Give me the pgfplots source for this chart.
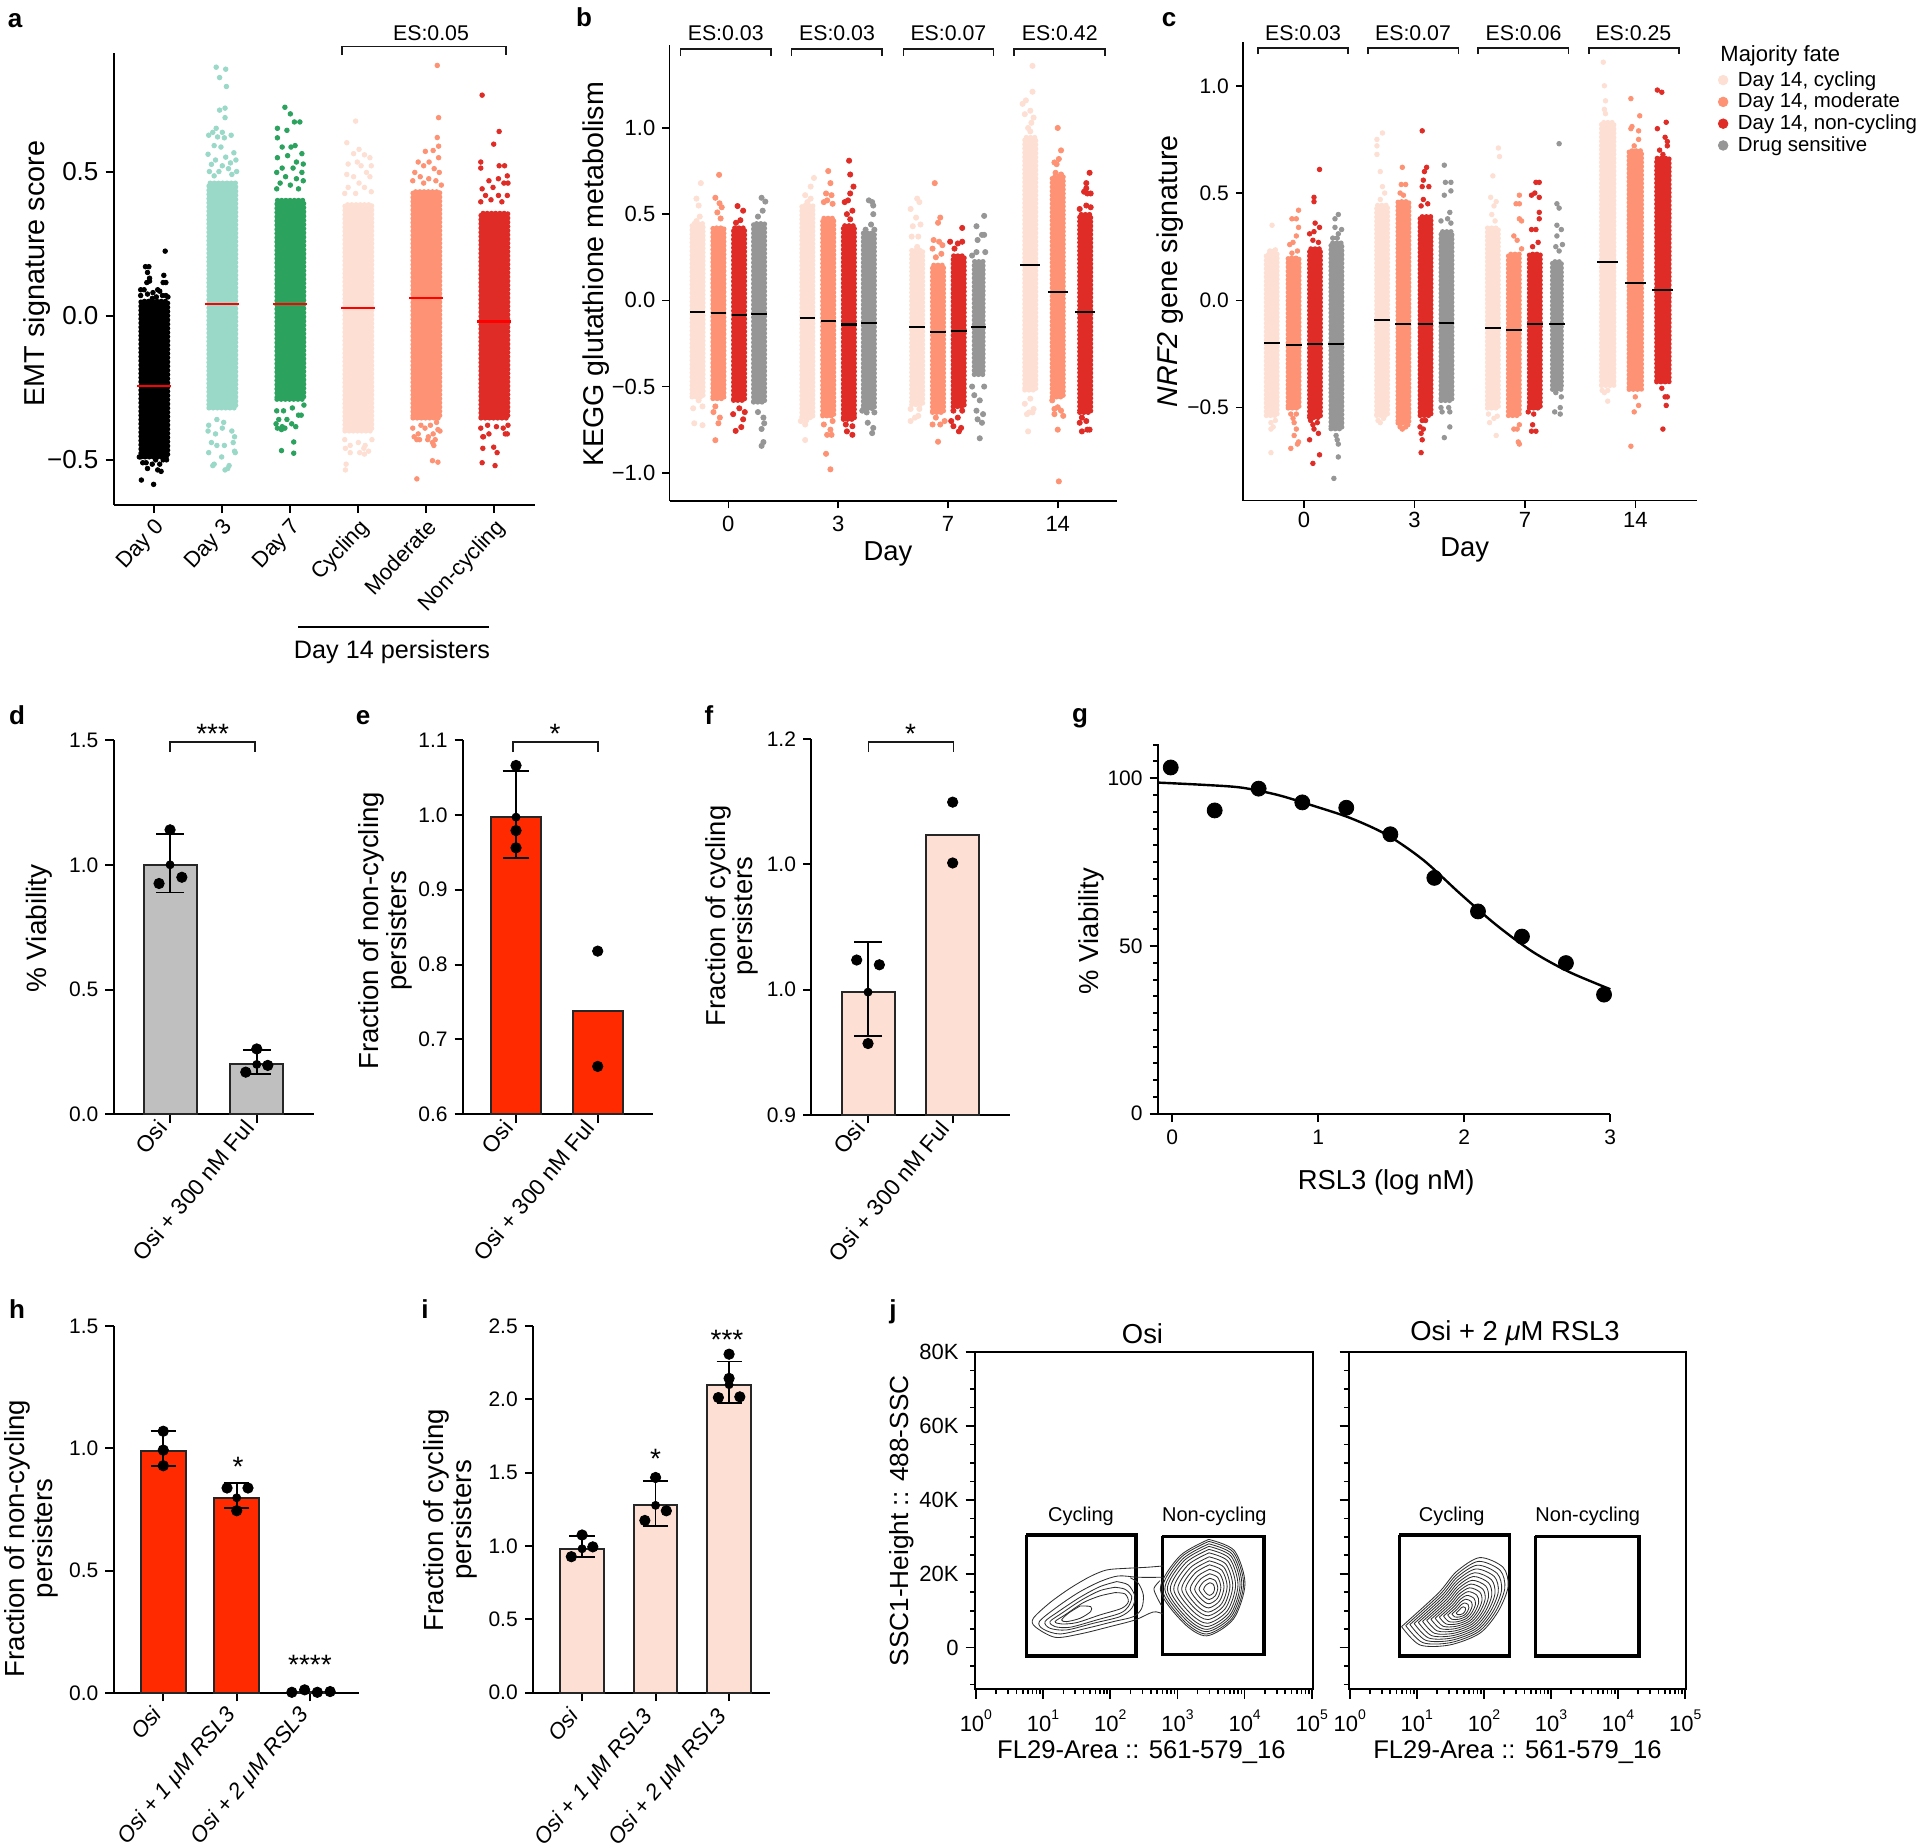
\documentclass[border=0pt]{standalone}
\usepackage{fontspec}
\setmainfont{Liberation Sans}
\usepackage{pgfplots}
\pgfplotsset{compat=1.18}
\def\pxu{0.5pt}
\newcommand\fz[1]{\fontsize{#1}{#1}\selectfont}
\definecolor{cC}{HTML}{FDDFD3}
\definecolor{cM}{HTML}{FD9374}
\definecolor{cN}{HTML}{DF2C26}
\definecolor{cG}{HTML}{969696}
\definecolor{c3}{HTML}{9AD8C8}
\definecolor{c7}{HTML}{2CA25F}
\definecolor{barR}{HTML}{FF2A00}
\definecolor{barG}{HTML}{BFBFBF}
\pgfplotsset{
 panel/.style n args={4}{scale only axis,at={(#1*\pxu,-#4*\pxu)},anchor=south west,width=(#3-#1)*\pxu,height=(#4-#2)*\pxu},
 base/.style={axis x line*=bottom,axis y line*=left,axis line style={-,line width=1pt,black},
   tick style={black,line width=1pt},tick align=outside,major tick length=4.2pt,minor tick length=2.5pt,
   clip=false,tick label style={font=\fz{10.5}},label style={font=\fz{13.7}},scaled ticks=false},
 ylab/.style n args={3}{y label style={at={(axis description cs:#1,#2)},anchor=center,align=center,font=\fz{#3}}},
 xlab/.style n args={3}{x label style={at={(axis description cs:#1,#2)},anchor=center,font=\fz{#3}}},
 rotl/.style 2 args={xticklabel style={rotate=#1,anchor=north east,inner sep=1pt,xshift=#2,font=\fz{11}}},
 core/.style={fill=#1,draw=#1,line width=2.6pt,line cap=round,dash pattern=on 0pt off 2.1pt,forget plot},
 pts/.style={only marks,mark=*,#1,mark size=1.15pt,forget plot},
 mn/.style={line width=1.05pt,#1,forget plot},
 errs/.style={only marks,mark=none,black,forget plot,error bars/.cd,y dir=both,y explicit,
   error bar style={line width=.9pt,black},error mark options={rotate=90,mark size=#1,line width=.9pt,black}},
 dots/.style={only marks,mark=*,black,mark size=2.6pt,forget plot},
 bars/.style 2 args={ybar,bar shift=0pt,bar width=#2,fill=#1,draw=black!85,line width=1pt,forget plot},
 ct/.style={smooth,black!82,line width=.42pt,forget plot},
 gate/.style={black,line width=1.7pt,line join=miter,forget plot},
 fac/.style={xtick={0,1,2,3,4,5},xticklabels={10\tp{0},10\tp{1},10\tp{2},10\tp{3},10\tp{4},10\tp{5}},
   minor xtick={.301,.477,.602,.699,.778,.845,.903,.954,1.301,1.477,1.602,1.699,1.778,1.845,1.903,1.954,2.301,2.477,2.602,2.699,2.778,2.845,2.903,2.954,3.301,3.477,3.602,3.699,3.778,3.845,3.903,3.954,4.301,4.477,4.602,4.699,4.778,4.845,4.903,4.954},
   ytick={0,20,40,60,80},minor ytick={-10,-5,5,10,15,25,30,35,45,50,55,65,70,75},
   xmin=-.016,xmax=5.016,ymin=-11.27,ymax=80,tick pos=left,tick align=outside,
   axis line style={line width=1pt},tick style={black,line width=.8pt},major tick length=4.6pt,minor tick length=2.4pt,clip=false,
   tick label style={font=\fz{11}},xticklabel style={yshift=-2pt},
   title style={font=\fz{13.7}}},
}
\newcommand\tp[1]{\raisebox{.55em}{\fz{7}#1}}
\newcommand\brk[4]{\draw[line width=.8pt,black!90] (#1*\pxu,-#4*\pxu) -- (#1*\pxu,-#3*\pxu) -- (#2*\pxu,-#3*\pxu) -- (#2*\pxu,-#4*\pxu);}
\newcommand\tx[4][10.65]{\node[inner sep=0pt,anchor=center,font=\fz{#1}] at (#2*\pxu,-#3*\pxu) {#4};}
\newcommand\pl[3]{\node[inner sep=0pt,anchor=base,font=\bfseries\fz{13}] at (#1*\pxu,-#2*\pxu) {#3};}
\newcommand\st[3]{\node[inner sep=0pt,anchor=base,font=\fz{14}] at (#1*\pxu,-#2*\pxu) {#3};}
\begin{document}
\begin{tikzpicture}
\useasboundingbox (0,0) rectangle (1920*\pxu,-1847*\pxu);
% ---------- a
\begin{axis}[panel={113.9}{53.5}{534.5}{504.7},base,xmin=-.594,xmax=5.59,ymin=-.6556,ymax=.9095,
 xtick={0,1,2,3,4,5},xticklabels={Day 0,Day 3,Day 7,Cycling,Moderate,Non-cycling},rotl={47}{-.5pt},
 ytick={-.5,0,.5},yticklabels={−0.5,0.0,0.5},yticklabel style={font=\fz{13}},
 ylabel={EMT signature score},ylab={-.1816}{.512}{14.4}]
\addplot[core=black] coordinates {(-.197,-.49)(.197,-.49)(.197,.05)(-.197,.05)(-.197,-.49)};
\addplot[pts=black] coordinates {(.16,.224)(-.13,.17)(-.08,.17)(-.1,.15)(-.07,.13)(.14,.14)(.13,.115)(.17,.115)(-.11,.115)(-.07,.12)(-.2,.09)(-.15,.09)(.05,.09)(-.02,.08)(.08,.085)(.17,.07)(.2,.065)(-.2,.07)(-.1,.075)(.12,.07)(-.03,.06)(.03,.065)(-.19,-.57)(-.01,-.585)(.1,-.54)(.05,-.535)(-.1,-.53)(-.03,-.515)(-.17,-.51)(.13,-.5)(.18,-.5)(.02,-.5)(-.12,-.51)(.08,-.515)(.17,-.49)(-.22,-.49)};
\addplot[mn=red] coordinates {(-.25,-.243)(.25,-.243)};
\addplot[core=c3] coordinates {(.803,-.32)(1.197,-.32)(1.197,.46)(.803,.46)(.803,-.32)};
\addplot[pts=c3] coordinates {(.91,.862)(1.05,.855)(.96,.826)(1.06,.795)(1.04,.72)(.96,.713)(1.04,.687)(.91,.65)(.86,.636)(1,.636)(.8,.626)(.93,.62)(1.13,.626)(1.03,.617)(.88,.59)(.98,.585)(.79,.56)(1.17,.565)(1.2,.54)(1.05,.55)(.9,.54)(1.12,.53)(.84,.525)(1,.52)(1.09,.51)(.81,.5)(1.21,.5)(.95,.5)(1.14,.49)(.88,.485)(.8,-.38)(.92,-.36)(1.02,-.37)(1.14,-.4)(1.18,-.42)(.79,-.4)(.9,-.41)(1,-.39)(1.16,-.44)(.84,-.44)(1.03,-.45)(.92,-.45)(1.18,-.47)(.8,-.475)(.99,-.49)(1.19,-.475)(.88,-.515)(.86,-.52)(1.1,-.52)(1.04,-.535)(1.08,-.53)};
\addplot[mn=red] coordinates {(.75,.041)(1.25,.041)};
\addplot[core=c7] coordinates {(1.803,-.29)(2.197,-.29)(2.197,.40)(1.803,.40)(1.803,-.29)};
\addplot[pts=c7] coordinates {(1.92,.723)(2,.70)(2.06,.672)(2.14,.672)(1.81,.65)(1.95,.643)(1.81,.617)(2.07,.59)(1.88,.585)(2.01,.585)(2.17,.562)(1.81,.548)(1.96,.555)(2.09,.533)(2.19,.526)(1.88,.512)(2.04,.512)(1.8,.497)(2.17,.497)(1.93,.482)(2.09,.475)(1.85,.46)(2.19,.468)(2,.453)(1.8,.44)(2.12,.44)(1.8,-.33)(1.9,-.33)(2.03,-.32)(2.2,-.31)(2.12,-.345)(1.83,-.36)(1.95,-.36)(2.16,-.345)(1.79,-.375)(1.92,-.39)(2.02,-.375)(1.81,-.39)(1.88,-.385)(2.08,-.385)(1.87,-.395)(1.87,-.468)(2.05,-.438)(2.05,-.477)};
\addplot[mn=red] coordinates {(1.75,.04)(2.25,.04)};
\addplot[core=cC] coordinates {(2.803,-.40)(3.197,-.40)(3.197,.385)(2.803,.385)(2.803,-.40)};
\addplot[pts=cC] coordinates {(2.96,.675)(2.83,.6)(3.01,.577)(2.93,.562)(3.09,.558)(3.17,.548)(2.85,.526)(2.985,.533)(3.19,.52)(3.04,.52)(2.83,.49)(3.12,.497)(2.93,.482)(3.17,.482)(3.01,.46)(2.85,.445)(3.09,.445)(2.8,.424)(3.19,.43)(2.96,.424)(2.8,-.43)(3.2,-.43)(3,-.44)(2.88,-.45)(3.1,-.45)(2.81,-.46)(3.15,-.47)(3.08,-.46)(2.88,-.475)(3.02,-.475)(3.09,-.48)(2.82,-.515)(2.81,-.535)};
\addplot[mn=red] coordinates {(2.75,.026)(3.25,.026)};
\addplot[core=cM] coordinates {(3.803,-.355)(4.197,-.355)(4.197,.43)(3.803,.43)(3.803,-.355)};
\addplot[pts=cM] coordinates {(4.16,.868)(4.18,.687)(4.16,.618)(4.18,.588)(3.985,.57)(4.1,.573)(3.88,.533)(4.04,.533)(4.18,.548)(3.83,.497)(3.96,.52)(4.115,.51)(4.19,.497)(3.91,.482)(4.035,.475)(3.8,.468)(4.14,.468)(3.96,.46)(4.22,.453)(4.15,-.37)(3.92,-.38)(4.06,-.38)(3.8,-.39)(4.17,-.395)(3.98,-.39)(3.88,-.41)(4.1,-.41)(4.2,-.4)(3.82,-.42)(4.03,-.42)(4.13,-.43)(3.86,-.43)(3.9,-.43)(4.02,-.43)(4.09,-.44)(4.11,-.45)(4.09,-.503)(4.17,-.508)(3.86,-.566)};
\addplot[mn=red] coordinates {(3.75,.06)(4.25,.06)};
\addplot[core=cN] coordinates {(4.803,-.355)(5.197,-.355)(5.197,.355)(4.803,.355)(4.803,-.355)};
\addplot[pts=cN] coordinates {(4.82,.765)(5.07,.639)(4.99,.595)(4.8,.533)(4.8,.512)(5.07,.52)(5.15,.52)(5.19,.485)(4.92,.468)(5.06,.475)(5.14,.46)(5.2,.46)(4.82,.44)(4.98,.445)(5.19,.417)(4.87,.417)(5.06,.417)(4.8,.395)(4.95,.402)(5.11,.395)(4.8,-.39)(5.2,-.38)(4.9,-.38)(5.03,-.385)(5.13,-.39)(4.83,-.42)(4.92,-.41)(5.16,-.41)(5.19,-.41)(4.84,-.42)(4.83,-.46)(4.99,-.456)(5.04,-.475)(4.82,-.51)(5.01,-.52)};
\addplot[mn=red] coordinates {(4.75,-.02)(5.25,-.02)};
\end{axis}
% ---------- b
\begin{axis}[panel={669.5}{45.2}{1116.7}{501.2},base,xmin=-.5355,xmax=3.537,ymin=-1.165,ymax=1.48,
 xtick={0,1,2,3},xticklabels={0,3,7,14},ytick={-1,-.5,0,.5,1},yticklabels={−1.0,−0.5,0.0,0.5,1.0},
 tick label style={font=\fz{11}},major tick length=3.6pt,axis line style={line width=.8pt},tick style={line width=.8pt},
 pts/.append style={mark size=1.3pt},
 xticklabel style={yshift=-.5pt},
 xlabel={Day},xlab={.4886}{-.1164}{13.7},ylabel={KEGG glutathione metabolism},ylab={-.1646}{.4976}{14.3}]
\addplot[core=cC] coordinates {(-.33,-.56)(-.23,-.56)(-.23,.445)(-.33,.445)(-.33,-.56)};
\addplot[pts=cC] coordinates {(-.25,.68)(-.29,.59)(-.27,.55)(-.26,.486)(-.29,.46)(-.32,-.626)(-.235,-.615)(-.31,-.713)(-.235,-.724)(-.27,-.58)};
\addplot[mn=black] coordinates {(-.35,-.065)(-.21,-.065)};
\addplot[core=cM] coordinates {(-.14,-.57)(-.04,-.57)(-.04,.42)(-.14,.42)(-.14,-.57)};
\addplot[pts=cM] coordinates {(-.084,.728)(-.118,.595)(-.08,.563)(-.06,.54)(-.1,.51)(-.07,.475)(-.118,-.615)(-.135,-.648)(-.077,-.68)(-.09,-.713)(-.118,-.811)};
\addplot[mn=black] coordinates {(-.16,-.074)(-.02,-.074)};
\addplot[core=cN] coordinates {(.048,-.58)(.148,-.58)(.148,.42)(.048,.42)(.048,-.58)};
\addplot[pts=cN] coordinates {(.084,.547)(.135,.52)(.11,.465)(.07,.45)(.1,-.626)(.135,-.69)(.118,-.735)(.067,-.757)(.044,-.66)(.15,-.648)};
\addplot[mn=black] coordinates {(.03,-.085)(.17,-.085)};
\addplot[core=cG] coordinates {(.23,-.59)(.33,-.59)(.33,.445)(.23,.445)(.23,-.59)};
\addplot[pts=cG] coordinates {(.303,.595)(.337,.573)(.313,.52)(.27,.486)(.32,-.68)(.303,-.746)(.32,-.822)(.303,-.844)(.27,-.648)(.327,-.713)};
\addplot[mn=black] coordinates {(.21,-.081)(.35,-.081)};
\addplot[core=cC] coordinates {(.67,-.68)(.77,-.68)(.77,.55)(.67,.55)(.67,-.68)};
\addplot[pts=cC] coordinates {(.78,.71)(.75,.66)(.70,.61)(.75,.59)(.72,.57)(.70,-.72)(.66,-.70)(.71,-.695)(.70,-.81)};
\addplot[mn=black] coordinates {(.65,-.10)(.79,-.10)};
\addplot[core=cM] coordinates {(.86,-.67)(.96,-.67)(.96,.476)(.86,.476)(.86,-.67)};
\addplot[pts=cM] coordinates {(.91,.75)(.93,.68)(.89,.62)(.94,.61)(.90,.58)(.95,.56)(.87,.57)(.87,-.72)(.93,-.75)(.90,-.78)(.94,-.78)(.89,-.89)(.93,-.98)(.95,-.7)};
\addplot[mn=black] coordinates {(.84,-.118)(.98,-.118)};
\addplot[core=cN] coordinates {(1.048,-.69)(1.148,-.69)(1.148,.433)(1.048,.433)(1.048,-.69)};
\addplot[pts=cN] coordinates {(1.10,.81)(1.11,.73)(1.14,.66)(1.11,.62)(1.06,.57)(1.09,.58)(1.13,.52)(1.08,.50)(1.11,.47)(1.07,-.72)(1.13,-.73)(1.08,-.76)(1.13,-.78)(1.14,-.67)};
\addplot[mn=black] coordinates {(1.03,-.14)(1.17,-.14)};
\addplot[core=cG] coordinates {(1.23,-.627)(1.33,-.627)(1.33,.39)(1.23,.39)(1.23,-.627)};
\addplot[pts=cG] coordinates {(1.28,.58)(1.31,.57)(1.32,.55)(1.32,.50)(1.30,.44)(1.25,.41)(1.33,.41)(1.26,-.65)(1.33,-.65)(1.27,-.71)(1.32,-.74)(1.31,-.77)(1.22,-.64)};
\addplot[mn=black] coordinates {(1.21,-.131)(1.35,-.131)};
\addplot[core=cC] coordinates {(1.67,-.605)(1.77,-.605)(1.77,.29)(1.67,.29)(1.67,-.605)};
\addplot[pts=cC] coordinates {(1.72,.59)(1.74,.57)(1.66,.53)(1.71,.48)(1.75,.44)(1.68,.43)(1.67,.37)(1.73,.37)(1.72,.31)(1.66,-.70)(1.70,-.68)(1.73,-.67)(1.66,-.63)(1.74,-.63)};
\addplot[mn=black] coordinates {(1.65,-.153)(1.79,-.153)};
\addplot[core=cM] coordinates {(1.86,-.65)(1.96,-.65)(1.96,.204)(1.86,.204)(1.86,-.65)};
\addplot[pts=cM] coordinates {(1.88,.68)(1.93,.48)(1.91,.45)(1.87,.35)(1.92,.34)(1.95,.32)(1.86,.30)(1.94,.27)(1.89,.25)(1.86,-.72)(1.93,-.72)(1.97,-.70)(1.91,-.82)(1.89,-.68)};
\addplot[mn=black] coordinates {(1.84,-.185)(1.98,-.185)};
\addplot[core=cN] coordinates {(2.048,-.616)(2.148,-.616)(2.148,.258)(2.048,.258)(2.048,-.616)};
\addplot[pts=cN] coordinates {(2.13,.42)(2.02,.34)(2.09,.33)(2.13,.34)(2.06,.30)(2.05,-.64)(2.13,-.64)(2.03,-.70)(2.09,-.68)(2.05,-.73)(2.12,-.74)(2.1,-.76)};
\addplot[mn=black] coordinates {(2.03,-.18)(2.17,-.18)};
\addplot[core=cG] coordinates {(2.24,-.43)(2.32,-.43)(2.32,.225)(2.24,.225)(2.24,-.43)};
\addplot[pts=cG] coordinates {(2.33,.49)(2.26,.43)(2.31,.38)(2.27,.35)(2.33,.38)(2.34,.28)(2.26,.28)(2.22,.26)(2.29,-.58)(2.24,-.55)(2.26,-.64)(2.32,-.66)(2.27,-.69)(2.31,-.71)(2.29,-.80)(2.33,-.5)(2.22,-.5)};
\addplot[mn=black] coordinates {(2.21,-.155)(2.35,-.155)};
\addplot[core=cC] coordinates {(2.7,-.52)(2.8,-.52)(2.8,.945)(2.7,.945)(2.7,-.52)};
\addplot[pts=cC] coordinates {(2.77,1.36)(2.77,1.21)(2.71,1.16)(2.68,1.14)(2.75,1.1)(2.7,1.08)(2.76,1.03)(2.78,1.06)(2.73,1.0)(2.75,.98)(2.75,-.57)(2.7,-.6)(2.78,-.63)(2.74,-.65)(2.72,-.66)(2.77,-.65)(2.73,-.76)};
\addplot[mn=black] coordinates {(2.66,.205)(2.84,.205)};
\addplot[core=cM] coordinates {(2.95,-.56)(3.05,-.56)(3.05,.716)(2.95,.716)(2.95,-.56)};
\addplot[pts=cM] coordinates {(3.0,1.0)(3.03,.87)(3.01,.82)(2.97,.80)(2.99,.79)(2.98,.74)(3.03,.73)(2.95,-.58)(3.0,-.62)(3.03,-.64)(2.97,-.63)(3.05,-.67)(2.97,-.66)(3.0,-.75)(3.01,-1.05)};
\addplot[mn=black] coordinates {(2.91,.046)(3.09,.046)};
\addplot[core=cN] coordinates {(3.2,-.65)(3.3,-.65)(3.3,.498)(3.2,.498)(3.2,-.65)};
\addplot[pts=cN] coordinates {(3.29,.74)(3.26,.68)(3.26,.65)(3.30,.62)(3.24,.63)(3.27,.62)(3.26,.55)(3.3,.54)(3.2,.53)(3.22,-.68)(3.2,-.71)(3.22,-.76)(3.27,-.75)(3.29,-.75)(3.26,-.7)};
\addplot[mn=black] coordinates {(3.16,-.065)(3.34,-.065)};
\end{axis}
% ---------- c
\begin{axis}[panel={1243}{42}{1697}{500.5},base,xmin=-.553,xmax=3.559,ymin=-.933,ymax=1.204,
 xtick={0,1,2,3},xticklabels={0,3,7,14},ytick={-.5,0,.5,1},yticklabels={−0.5,0.0,0.5,1.0},
 major tick length=3.6pt,axis line style={line width=.8pt},tick style={line width=.8pt},
 xticklabel style={yshift=1.3pt,font=\fz{11}},
 xlabel={Day},xlab={.4885}{-.1067}{13.7},ylabel={\textit{NRF2} gene signature},ylab={-.161}{.5}{14.3},
 legend style={draw=none,fill=none,at={(axis description cs:1.047,.945)},anchor=north west,font=\fz{10.2},inner sep=0pt,outer sep=0pt,row sep=-2pt,/tikz/every odd column/.append style={column sep=3pt}},legend cell align=left]
\addlegendimage{only marks,mark=*,mark size=2.4pt,cC}
\addlegendimage{only marks,mark=*,mark size=2.4pt,cM}
\addlegendimage{only marks,mark=*,mark size=2.4pt,cN}
\addlegendimage{only marks,mark=*,mark size=2.4pt,cG}
\legend{{Day 14, cycling},{Day 14, moderate},{Day 14, non-cycling},{Drug sensitive}}
\addplot[core=cC] coordinates {(-.342,-.537)(-.244,-.537)(-.244,.215)(-.342,.215)(-.342,-.537)};
\addplot[pts=cC] coordinates {(-.29,.35)(-.26,.235)(-.31,.23)(-.27,.23)(-.30,-.57)(-.26,-.56)(-.28,-.59)(-.3,-.6)(-.3,-.71)};
\addplot[mn=black] coordinates {(-.365,-.2)(-.221,-.2)};
\addplot[core=cM] coordinates {(-.144,-.502)(-.046,-.502)(-.046,.197)(-.144,.197)(-.144,-.502)};
\addplot[pts=cM] coordinates {(-.05,.42)(-.11,.38)(-.07,.38)(-.05,.34)(-.07,.30)(-.1,.27)(-.13,.26)(-.06,.23)(-.11,.22)(-.12,-.53)(-.07,-.53)(-.09,-.57)(-.07,-.6)(-.09,-.63)(-.05,-.66)(-.12,-.69)(-.06,-.67)(-.1,-.55)};
\addplot[mn=black] coordinates {(-.167,-.207)(-.023,-.207)};
\addplot[core=cN] coordinates {(.05,-.546)(.148,-.546)(.148,.24)(.05,.24)(.05,-.546)};
\addplot[pts=cN] coordinates {(.14,.61)(.09,.48)(.09,.46)(.1,.36)(.14,.34)(.05,.31)(.09,.32)(.08,.28)(.13,.27)(.06,-.56)(.12,-.57)(.09,-.6)(.13,-.62)(.08,-.58)(.05,-.65)(.14,-.72)(.08,-.76)};
\addplot[mn=black] coordinates {(.027,-.202)(.171,-.202)};
\addplot[core=cG] coordinates {(.244,-.599)(.342,-.599)(.342,.267)(.244,.267)(.244,-.599)};
\addplot[pts=cG] coordinates {(.31,.40)(.28,.38)(.28,.34)(.34,.33)(.31,.31)(.26,.29)(.3,.29)(.29,-.63)(.3,-.65)(.31,-.67)(.31,-.73)(.27,-.83)};
\addplot[mn=black] coordinates {(.221,-.202)(.365,-.202)};
\addplot[core=cC] coordinates {(.658,-.537)(.756,-.537)(.756,.443)(.658,.443)(.658,-.537)};
\addplot[pts=cC] coordinates {(.71,.78)(.66,.75)(.66,.72)(.66,.68)(.69,.6)(.71,.53)(.73,.5)(.69,.47)(.67,-.56)(.72,-.55)(.69,-.57)};
\addplot[mn=black] coordinates {(.635,-.091)(.779,-.091)};
\addplot[core=cM] coordinates {(.851,-.572)(.949,-.572)(.949,.46)(.851,.46)(.851,-.572)};
\addplot[pts=cM] coordinates {(.89,.62)(.88,.54)(.92,.54)(.87,.5)(.9,.49)(.87,-.59)(.92,-.59)(.89,-.6)(.94,-.58)};
\addplot[mn=black] coordinates {(.828,-.109)(.972,-.109)};
\addplot[core=cN] coordinates {(1.051,-.537)(1.149,-.537)(1.149,.39)(1.051,.39)(1.051,-.537)};
\addplot[pts=cN] coordinates {(1.07,.79)(1.11,.62)(1.09,.6)(1.08,.56)(1.07,.53)(1.13,.53)(1.08,.47)(1.12,.45)(1.06,.44)(1.07,-.56)(1.1,-.56)(1.05,-.59)(1.08,-.6)(1.06,-.62)(1.07,-.65)(1.06,-.71)};
\addplot[mn=black] coordinates {(1.028,-.11)(1.172,-.11)};
\addplot[core=cG] coordinates {(1.241,-.467)(1.339,-.467)(1.339,.32)(1.241,.32)(1.241,-.467)};
\addplot[pts=cG] coordinates {(1.27,.63)(1.33,.55)(1.28,.55)(1.33,.51)(1.32,.41)(1.27,.49)(1.24,.37)(1.3,.38)(1.33,.36)(1.24,-.5)(1.31,-.5)(1.32,-.52)(1.25,-.52)(1.32,-.59)(1.27,-.64)};
\addplot[mn=black] coordinates {(1.218,-.105)(1.362,-.105)};
\addplot[core=cC] coordinates {(1.661,-.502)(1.759,-.502)(1.759,.337)(1.661,.337)(1.661,-.502)};
\addplot[pts=cC] coordinates {(1.76,.71)(1.77,.67)(1.71,.58)(1.69,.48)(1.74,.46)(1.72,.44)(1.7,.4)(1.73,.37)(1.67,-.53)(1.72,-.55)(1.68,-.57)(1.75,-.54)(1.74,-.63)};
\addplot[mn=black] coordinates {(1.638,-.128)(1.782,-.128)};
\addplot[core=cM] coordinates {(1.851,-.537)(1.949,-.537)(1.949,.215)(1.851,.215)(1.851,-.537)};
\addplot[pts=cM] coordinates {(1.95,.49)(1.92,.45)(1.95,.45)(1.95,.38)(1.97,.37)(1.9,.3)(1.93,.28)(1.97,.24)(1.95,-.58)(1.9,-.6)(1.93,-.6)(1.94,-.66)(1.95,-.67)};
\addplot[mn=black] coordinates {(1.828,-.14)(1.972,-.14)};
\addplot[core=cN] coordinates {(2.041,-.502)(2.139,-.502)(2.139,.215)(2.041,.215)(2.041,-.502)};
\addplot[pts=cN] coordinates {(2.1,.55)(2.13,.55)(2.06,.49)(2.09,.5)(2.13,.48)(2.13,.41)(2.13,.38)(2.1,.33)(2.06,.33)(2.12,.27)(2.07,.25)(2.08,-.53)(2.03,-.52)(2.07,-.58)(2.06,-.61)(2.1,-.61)};
\addplot[mn=black] coordinates {(2.018,-.112)(2.162,-.112)};
\addplot[core=cG] coordinates {(2.25,-.415)(2.33,-.415)(2.33,.18)(2.25,.18)(2.25,-.415)};
\addplot[pts=cG] coordinates {(2.31,.73)(2.29,.45)(2.31,.43)(2.29,.35)(2.33,.33)(2.29,.3)(2.34,.26)(2.28,.25)(2.31,.23)(2.33,-.45)(2.28,-.43)(2.32,-.5)(2.32,-.53)(2.27,-.52)};
\addplot[mn=black] coordinates {(2.218,-.112)(2.362,-.112)};
\addplot[core=cC] coordinates {(2.694,-.397)(2.806,-.397)(2.806,.829)(2.694,.829)(2.694,-.397)};
\addplot[pts=cC] coordinates {(2.71,1.11)(2.72,1.0)(2.73,.93)(2.72,.89)(2.73,.87)(2.7,-.42)(2.75,-.42)(2.72,-.43)(2.75,-.47)};
\addplot[mn=black] coordinates {(2.655,.179)(2.845,.179)};
\addplot[core=cM] coordinates {(2.944,-.415)(3.056,-.415)(3.056,.697)(2.944,.697)(2.944,-.415)};
\addplot[pts=cM] coordinates {(2.96,.94)(3.04,.86)(2.97,.81)(2.96,.8)(3.03,.79)(3.03,.75)(2.99,.72)(3.0,-.45)(3.03,-.49)(2.99,-.52)(2.96,-.68)};
\addplot[mn=black] coordinates {(2.905,.081)(3.095,.081)};
\addplot[core=cN] coordinates {(3.194,-.38)(3.306,-.38)(3.306,.662)(3.194,.662)(3.194,-.38)};
\addplot[pts=cN] coordinates {(3.2,.98)(3.24,.97)(3.28,.83)(3.2,.8)(3.27,.76)(3.29,.74)(3.29,.72)(3.22,.7)(3.25,.68)(3.24,-.41)(3.29,-.45)(3.27,-.45)(3.28,-.49)(3.25,-.6)};
\addplot[mn=black] coordinates {(3.155,.047)(3.345,.047)};
\end{axis}
% ---------- d
\begin{axis}[panel={113.8}{740}{314}{1114.3},base,xmin=-.649,xmax=1.66,ymin=0,ymax=1.5,
 xtick={0,1},xticklabels={Osi,Osi + 300 nM Ful},rotl={50}{-1.7pt},xticklabel style={font=\fz{11.4},yshift=8pt},ytick={0,.5,1,1.5},yticklabels={0.0,0.5,1.0,1.5},
 ylabel={\% Viability},ylab={-.3746}{.496}{14}]
\addplot[bars={barG}{26.5pt}] coordinates {(0,1)(1,.2)};
\addplot[errs=7pt] coordinates {(0,1) += (0,.122) -= (0,.111) (1,.2) += (0,.058) -= (0,.039)};
\addplot[dots] coordinates {(0,1.14)(-.127,.925)(.136,.95)(1,.262)(.873,.169)(1.127,.196)};
\end{axis}
% ---------- e
\begin{axis}[panel={463}{740}{652.6}{1114.3},base,clip=true,xmin=-.649,xmax=1.672,ymin=.6,ymax=1.1,
 xtick={0,1},xticklabels={Osi,Osi + 300 nM Ful},rotl={50}{-1.7pt},xticklabel style={font=\fz{11.4},yshift=8pt},ytick={.6,.7,.8,.9,1,1.1},yticklabels={0.6,0.7,0.8,0.9,1.0,1.1},
 ylabel={Fraction of non-cycling\\persisters},ylab={-.411}{.49}{13.8}]
\addplot[bars={barR}{24.8pt}] coordinates {(0,.997)(1,.738)};
\addplot[errs=6.7pt] coordinates {(0,.997) += (0,.062) -= (0,.055)};
\addplot[dots] coordinates {(0,1.066)(0,.979)(0,.956)(1,.818)(1,.664)};
\end{axis}
% ---------- f
\begin{axis}[panel={811.4}{738.8}{1009.7}{1115},base,clip=true,xmin=-.669,xmax=1.674,ymin=.9,ymax=1.2,
 xtick={0,1},xticklabels={Osi,Osi + 300 nM Ful},rotl={50}{-1.7pt},xticklabel style={font=\fz{11.4},yshift=8pt},ytick={.9,1,1.1,1.2},yticklabels={0.9,1.0,1.0,1.2},
 ylabel={Fraction of cycling\\persisters},ylab={-.400}{.529}{13.7}]
\addplot[bars={cC}{26.5pt}] coordinates {(0,.998)(1,1.123)};
\addplot[errs=7pt] coordinates {(0,.998) += (0,.040) -= (0,.035)};
\addplot[dots] coordinates {(-.134,1.0236)(.134,1.0198)(0,.957)(1,1.1495)(1,1.101)};
\end{axis}
% ---------- g
\begin{axis}[panel={1158}{744}{1610.3}{1113.7},base,xmin=-.097,xmax=3,ymin=0,ymax=110.2,
 xtick={0,1,2,3},ytick={0,50,100},yticklabels={0,50,100},xticklabels={0,1,2,3},
 minor ytick={5,10,15,20,25,30,35,40,45,55,60,65,70,75,80,85,90,95,105,110},
 xticklabel style={yshift=-.5pt},
 xlabel={RSL3 (log nM)},xlab={.5045}{-.187}{13.7},ylabel={\% Viability},ylab={-.1483}{.494}{13.7}]
\addplot[smooth,black,line width=1.2pt,forget plot] coordinates {(-.097,98.7)(.227,98.0)(.475,97.2)(.724,95.0)(.973,91.7)(1.222,88.1)(1.471,83.1)(1.72,75.6)(1.969,65.7)(2.218,56.3)(2.467,48.3)(2.716,42.3)(3,37.1)};
\addplot[dots,mark size=3.75pt] coordinates {(-.01,103.2)(.291,90.4)(.592,96.9)(.891,92.8)(1.192,91.2)(1.494,83.3)(1.795,70.3)(2.094,60.3)(2.395,52.8)(2.696,44.9)(2.957,35.5)};
\end{axis}
% ---------- h
\begin{axis}[panel={113.8}{1326}{359}{1693},base,xmin=-.673,xmax=2.664,ymin=0,ymax=1.5,
 xtick={0,1,2},xticklabels={Osi,Osi + 1 μM RSL3,Osi + 2 μM RSL3},rotl={50}{-4.3pt},xticklabel style={font=\itshape\fz{11.1},yshift=5pt},
 ytick={0,.5,1,1.5},yticklabels={0.0,0.5,1.0,1.5},
 ylabel={Fraction of non-cycling\\persisters},ylab={-.3356}{.421}{13.8}]
\addplot[bars={barR}{22.3pt}] coordinates {(0,.988)(1,.798)(2,.005)};
\addplot[errs=6.3pt] coordinates {(0,.988) += (0,.082) -= (0,.061) (1,.798) += (0,.061) -= (0,.043)};
\addplot[dots] coordinates {(0,1.07)(0,.993)(0,.929)(.868,.838)(1.153,.838)(1,.745)(1.75,.003)(1.924,.013)(2.097,.003)(2.271,.006)};
\end{axis}
% ---------- i
\begin{axis}[panel={533.2}{1326}{770.4}{1692.6},base,xmin=-.665,xmax=2.562,ymin=0,ymax=2.5,
 xtick={0,1,2},xticklabels={Osi,Osi + 1 μM RSL3,Osi + 2 μM RSL3},rotl={50}{-5.5pt},xticklabel style={font=\itshape\fz{11.1},yshift=5pt},
 ytick={0,.5,1,1.5,2,2.5},yticklabels={0.0,0.5,1.0,1.5,2.0,2.5},
 ylabel={Fraction of cycling\\persisters},ylab={-.349}{.4709}{13.8}]
\addplot[bars={cC}{21.7pt}] coordinates {(0,.981)(1,1.277)(2,2.10)};
\addplot[errs=6.3pt] coordinates {(0,.981) += (0,.086) -= (0,.054) (1,1.277) += (0,.168) -= (0,.138) (2,2.10) += (0,.158) -= (0,.125)};
\addplot[dots] coordinates {(0,1.075)(.146,.994)(-.146,.927)(1,1.467)(1.146,1.24)(.854,1.174)(2,2.308)(2,2.143)(1.854,2.012)(2.146,2.017)};
\end{axis}
% ---------- j left
\begin{axis}[panel={974.8}{1352}{1312.9}{1689.3},fac,
 yticklabels={0,20K,40K,60K,80K},
 xlabel={FL29-Area :: 561-579\_16},xlab={.4927}{-.185}{12.8},
 ylabel={SSC1-Height :: 488-SSC},ylab={-.2168}{.4993}{13.1},
 title={Osi},title style={at={(axis description cs:.496,1.019)},anchor=center}]
\addplot[gate] coordinates {(.75,30.5)(2.384,30.5)(2.384,-2.25)(.75,-2.25)(.75,30.5)};
\addplot[gate] coordinates {(2.775,30.1)(4.29,30.1)(4.29,-1.8)(2.775,-1.8)(2.775,30.1)};
\addplot[ct] coordinates {(2.79,22.12)(2.542,21.75)(2.244,21.48)(1.947,21.03)(1.698,19.23)(1.401,16.07)(1.103,12.19)(.855,7.95)(.88,5.7)(1.178,2.81)(1.55,3.71)(1.996,5.7)(2.368,7.5)(2.641,9.67)(2.78,9.13)};
\addplot[ct] coordinates {(2.79,19.05)(2.418,19.05)(2.12,19.41)(1.847,17.88)(1.525,14.9)(1.202,10.93)(.944,7.05)(1.004,5.0)(1.252,3.71)(1.649,5.25)(2.046,7.05)(2.344,8.4)(2.468,10.66)(2.492,14.27)(2.418,17.42)(2.3,18.9)};
\addplot[ct] coordinates {(2.096,17.88)(1.847,16.52)(1.55,13.64)(1.227,9.76)(1.029,7.05)(1.103,5.25)(1.351,4.8)(1.748,6.6)(2.145,8.4)(2.319,10.66)(2.368,13.82)(2.269,16.97)(2.096,17.88)};
\addplot[ct] coordinates {(2.071,16.34)(1.847,15.44)(1.574,12.91)(1.277,9.31)(1.103,7.05)(1.178,5.7)(1.401,5.52)(1.798,7.5)(2.145,9.31)(2.269,11.11)(2.319,13.82)(2.22,15.8)(2.071,16.34)};
\addplot[ct] coordinates {(2.071,14.9)(1.847,14.0)(1.599,12.19)(1.326,8.86)(1.178,7.05)(1.277,6.42)(1.5,6.78)(1.847,8.86)(2.17,10.66)(2.269,12.46)(2.22,14.54)(2.071,14.9)};
\addplot[ct] coordinates {(1.55,11.29)(1.708,11.11)(1.708,9.76)(1.55,7.95)(1.351,7.05)(1.277,7.5)(1.376,9.31)(1.55,11.29)};
\addplot[ct] coordinates {(2.74,18.15)(2.651,16.07)(2.691,13.82)(2.765,11.29)};
\addplot[ct] coordinates {(3.465,29.3)(3.845,26.3)(4.005,17.3)(3.835,7.8)(3.435,3.2)(3.085,6.8)(2.745,15.8)(3.035,24.8)(3.465,29.3)};
\addplot[ct] coordinates {(3.466,28.76)(3.83,25.88)(3.984,17.24)(3.821,8.12)(3.437,3.7)(3.101,7.16)(2.775,15.8)(3.053,24.44)(3.466,28.76)};
\addplot[ct] coordinates {(3.467,28.09)(3.813,25.36)(3.958,17.17)(3.804,8.52)(3.44,4.33)(3.121,7.61)(2.812,15.8)(3.076,23.99)(3.467,28.09)};
\addplot[ct] coordinates {(3.468,27.41)(3.795,24.83)(3.932,17.09)(3.786,8.92)(3.442,4.96)(3.141,8.06)(2.849,15.8)(3.098,23.54)(3.468,27.41)};
\addplot[ct] coordinates {(3.469,26.6)(3.773,24.2)(3.901,17.0)(3.765,9.4)(3.445,5.72)(3.165,8.6)(2.893,15.8)(3.125,23.0)(3.469,26.6)};
\addplot[ct] coordinates {(3.47,25.66)(3.748,23.47)(3.865,16.9)(3.741,9.96)(3.449,6.6)(3.193,9.23)(2.945,15.8)(3.157,22.37)(3.47,25.66)};
\addplot[ct] coordinates {(3.472,24.58)(3.719,22.63)(3.823,16.78)(3.713,10.6)(3.453,7.61)(3.225,9.95)(3.004,15.8)(3.193,21.65)(3.472,24.58)};
\addplot[ct] coordinates {(3.474,23.5)(3.69,21.79)(3.781,16.66)(3.685,11.24)(3.457,8.62)(3.257,10.67)(3.063,15.8)(3.229,20.93)(3.474,23.5)};
\addplot[ct] coordinates {(3.475,22.42)(3.661,20.95)(3.74,16.54)(3.657,11.88)(3.46,9.63)(3.289,11.39)(3.122,15.8)(3.265,20.21)(3.475,22.42)};
\addplot[ct] coordinates {(3.477,21.2)(3.629,20.0)(3.693,16.4)(3.625,12.6)(3.465,10.76)(3.325,12.2)(3.189,15.8)(3.305,19.4)(3.477,21.2)};
\addplot[ct] coordinates {(3.479,20.0)(3.597,19.06)(3.646,16.27)(3.594,13.32)(3.47,11.89)(3.361,13.01)(3.256,15.8)(3.346,18.59)(3.479,20.0)};
\addplot[ct] coordinates {(3.481,18.77)(3.564,18.11)(3.6,16.13)(3.562,14.04)(3.474,13.03)(3.397,13.82)(3.322,15.8)(3.386,17.78)(3.481,18.77)};
\addplot[ct] coordinates {(3.482,17.56)(3.532,17.17)(3.553,15.99)(3.531,14.76)(3.479,14.16)(3.433,14.63)(3.389,15.8)(3.426,16.97)(3.482,17.56)};
\end{axis}
% ---------- j right
\begin{axis}[panel={1348.7}{1352}{1686.2}{1689.3},fac,
 yticklabels={},
 xlabel={FL29-Area :: 561-579\_16},xlab={.5}{-.185}{12.8},
 title={Osi + 2 {\itshape μ}M RSL3},title style={at={(axis description cs:.4927,1.019)},anchor=center}]
\addplot[gate] coordinates {(.74,30.5)(2.38,30.5)(2.38,-2.25)(.74,-2.25)(.74,30.5)};
\addplot[gate] coordinates {(2.767,30.1)(4.31,30.1)(4.31,-2.25)(2.767,-2.25)(2.767,30.1)};
\addplot[ct] coordinates {(.772,5.7)(1.318,14.72)(1.591,20.59)(1.938,24.37)(2.285,21.76)(2.36,16.53)(2.211,9.76)(1.938,3.9)(1.491,.74)(1.045,.74)(.772,5.7)};
\addplot[ct] coordinates {(.834,5.98)(1.342,14.37)(1.596,19.83)(1.919,23.35)(2.242,20.92)(2.311,16.06)(2.173,9.76)(1.919,4.31)(1.503,1.37)(1.088,1.37)(.834,5.98)};
\addplot[ct] coordinates {(.897,6.27)(1.367,14.03)(1.601,19.07)(1.9,22.32)(2.198,20.08)(2.263,15.58)(2.135,9.76)(1.9,4.72)(1.515,2.0)(1.132,2.0)(.897,6.27)};
\addplot[ct] coordinates {(.96,6.55)(1.391,13.68)(1.607,18.32)(1.881,21.3)(2.155,19.24)(2.214,15.11)(2.096,9.76)(1.881,5.13)(1.528,2.63)(1.175,2.63)(.96,6.55)};
\addplot[ct] coordinates {(1.022,6.84)(1.415,13.33)(1.612,17.56)(1.862,20.28)(2.111,18.4)(2.165,14.63)(2.058,9.76)(1.862,5.54)(1.54,3.27)(1.219,3.27)(1.022,6.84)};
\addplot[ct] coordinates {(1.085,7.12)(1.439,12.98)(1.617,16.8)(1.842,19.26)(2.068,17.56)(2.117,14.16)(2.02,9.76)(1.842,5.95)(1.552,3.9)(1.262,3.9)(1.085,7.12)};
\addplot[ct] coordinates {(1.147,7.41)(1.464,12.64)(1.622,16.04)(1.823,18.23)(2.025,16.72)(2.068,13.69)(1.982,9.76)(1.823,6.36)(1.564,4.53)(1.305,4.53)(1.147,7.41)};
\addplot[ct] coordinates {(1.21,7.69)(1.488,12.29)(1.627,15.28)(1.804,17.21)(1.981,15.88)(2.019,13.21)(1.943,9.76)(1.804,6.77)(1.576,5.16)(1.349,5.16)(1.21,7.69)};
\addplot[ct] coordinates {(1.272,7.97)(1.512,11.94)(1.632,14.53)(1.785,16.19)(1.938,15.04)(1.971,12.74)(1.905,9.76)(1.785,7.18)(1.588,5.79)(1.392,5.79)(1.272,7.97)};
\addplot[ct] coordinates {(1.335,8.26)(1.537,11.6)(1.638,13.77)(1.766,15.17)(1.894,14.2)(1.922,12.26)(1.867,9.76)(1.766,7.59)(1.601,6.42)(1.436,6.42)(1.335,8.26)};
\addplot[ct] coordinates {(1.397,8.54)(1.561,11.25)(1.643,13.01)(1.747,14.14)(1.851,13.36)(1.874,11.79)(1.829,9.76)(1.747,8.0)(1.613,7.05)(1.479,7.05)(1.397,8.54)};
\addplot[ct] coordinates {(1.46,8.83)(1.585,10.9)(1.648,12.25)(1.728,13.12)(1.808,12.52)(1.825,11.32)(1.791,9.76)(1.728,8.41)(1.625,7.69)(1.522,7.69)(1.46,8.83)};
\addplot[ct] coordinates {(1.522,9.11)(1.609,10.55)(1.653,11.49)(1.709,12.1)(1.764,11.68)(1.776,10.84)(1.752,9.76)(1.709,8.82)(1.637,8.32)(1.566,8.32)(1.522,9.11)};
\addplot[ct] coordinates {(1.585,9.39)(1.634,10.21)(1.658,10.73)(1.69,11.07)(1.721,10.84)(1.728,10.37)(1.714,9.76)(1.69,9.23)(1.649,8.95)(1.609,8.95)(1.585,9.39)};
\end{axis}
% ---------- annotations
\pl{15}{27}{a}\pl{584}{26}{b}\pl{1169}{26}{c}\pl{17}{724}{d}\pl{363}{724}{e}\pl{709}{724}{f}\pl{1080}{722}{g}\pl{17}{1318}{h}\pl{425}{1318}{i}\pl{893}{1318}{j}
\brk{342}{506}{46.3}{54.7}\tx{431}{33}{ES:0.05}
\draw[line width=.9pt] (298*\pxu,-626.7*\pxu) -- (489*\pxu,-626.7*\pxu);
\tx[12.6]{392}{652}{Day 14 persisters}
\brk{680.6}{771.2}{48.9}{55.7}\brk{791.6}{882.2}{48.9}{55.7}\brk{903.3}{993.5}{48.9}{55.7}\brk{1014}{1104.9}{48.9}{55.7}
\tx{725.7}{33}{ES:0.03}\tx{837}{33}{ES:0.03}\tx{948.4}{33}{ES:0.07}\tx{1059.7}{33}{ES:0.42}
\brk{1257.9}{1347.9}{48.2}{54.2}\brk{1367.8}{1458.3}{48.2}{54.2}\brk{1477.7}{1568.3}{48.2}{54.2}\brk{1588.7}{1679.2}{48.2}{54.2}
\tx{1303}{33}{ES:0.03}\tx{1413}{33}{ES:0.07}\tx{1523.5}{33}{ES:0.06}\tx{1633.4}{33}{ES:0.25}
\node[inner sep=0pt,anchor=west,font=\fz{11}] at (1720*\pxu,-56*\pxu) {Majority fate};
\brk{169.7}{255}{741.8}{752}\st{212.6}{743}{***}
\brk{513}{598}{741.8}{752}\st{555}{743}{*}
\brk{868.5}{953.4}{741.8}{752}\st{910.6}{743}{*}
\st{238}{1476}{*}\st{310}{1674.6}{****}\st{655.6}{1468.5}{*}\st{727}{1349.5}{***}
\tx[10]{1081}{1516.7}{Cycling}\tx[10]{1214.3}{1516.7}{Non-cycling}
\tx[10]{1451.7}{1516.7}{Cycling}\tx[10]{1587.7}{1516.7}{Non-cycling}
\end{tikzpicture}
\end{document}
